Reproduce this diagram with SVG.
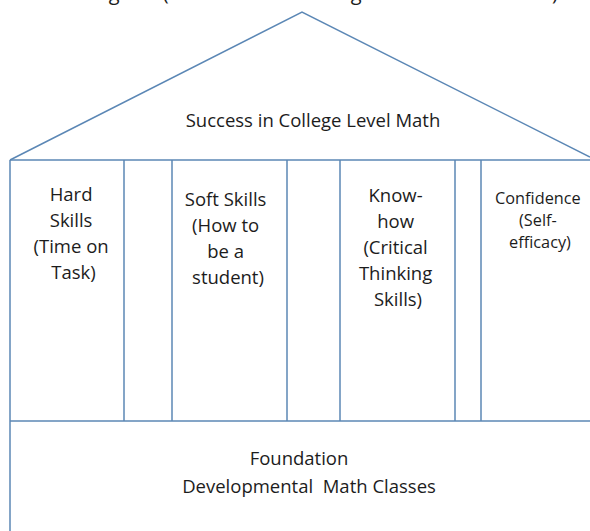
<svg xmlns="http://www.w3.org/2000/svg" width="590" height="531" viewBox="0 0 590 531">
  <style>
    .edge { fill: none; stroke: #5b87b5; stroke-width: 1.5; }
    .lbl { font-family: "Open Sans", "Noto Sans", "Liberation Sans", sans-serif; fill: #1c1c1c; text-anchor: middle; }
    .big { font-size: 18.5px; }
    .small { font-size: 16.3px; }
  </style>
  <rect width="590" height="531" fill="#ffffff"/>

  <!-- heading, clipped at the top edge -->
  <text class="lbl" x="318" y="0" font-size="20">Diagram (Foundation to College Level Mathematics)</text>

  <!-- roof -->
  <g id="roof">
    <polyline class="edge" points="10,160 302,12 590,157"/>
    <line class="edge" x1="10" y1="160" x2="590" y2="160"/>
    <text class="lbl big" x="313" y="127">Success in College Level Math</text>
  </g>

  <!-- pillars -->
  <g id="pillars">
    <line class="edge" x1="124" y1="160" x2="124" y2="421"/>
    <line class="edge" x1="172" y1="160" x2="172" y2="421"/>
    <line class="edge" x1="287" y1="160" x2="287" y2="421"/>
    <line class="edge" x1="340" y1="160" x2="340" y2="421"/>
    <line class="edge" x1="455" y1="160" x2="455" y2="421"/>
    <line class="edge" x1="481" y1="160" x2="481" y2="421"/>
  </g>

  <g id="hard-skills">
    <text class="lbl big" x="73.5">
      <tspan x="73.5" y="201">Hard</tspan>
      <tspan x="73.5" y="227">Skills</tspan>
      <tspan x="73.5" y="253">(Time on</tspan>
      <tspan x="73.5" y="279">Task)</tspan>
    </text>
  </g>

  <g id="soft-skills">
    <text class="lbl big" x="228">
      <tspan x="228" y="206">Soft Skills</tspan>
      <tspan x="228" y="232">(How to</tspan>
      <tspan x="228" y="258">be a</tspan>
      <tspan x="228" y="284">student)</tspan>
    </text>
  </g>

  <g id="know-how">
    <text class="lbl big" x="398">
      <tspan x="398" y="202">Know-</tspan>
      <tspan x="398" y="228">how</tspan>
      <tspan x="398" y="254">(Critical</tspan>
      <tspan x="398" y="280">Thinking</tspan>
      <tspan x="398" y="306">Skills)</tspan>
    </text>
  </g>

  <g id="confidence">
    <text class="lbl small" x="540">
      <tspan x="540" y="204">Confidence</tspan>
      <tspan x="540" y="226">(Self-</tspan>
      <tspan x="540" y="248">efficacy)</tspan>
    </text>
  </g>

  <!-- foundation -->
  <g id="foundation">
    <line class="edge" x1="10" y1="160" x2="10" y2="531"/>
    <line class="edge" x1="10" y1="421" x2="590" y2="421"/>
    <text class="lbl big" x="299" y="465">Foundation</text>
    <text class="lbl big" x="309" y="493" xml:space="preserve">Developmental  Math Classes</text>
  </g>
</svg>
